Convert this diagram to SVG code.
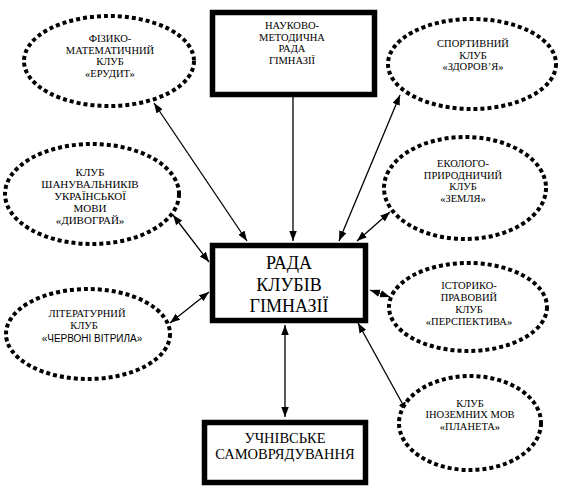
<svg xmlns="http://www.w3.org/2000/svg" width="567" height="497" viewBox="0 0 567 497">
<defs>
<marker id="ah" markerUnits="userSpaceOnUse" markerWidth="10" markerHeight="8" refX="8" refY="3" orient="auto-start-reverse" viewBox="0 0 8 6">
<path d="M0,0 L8,3 L0,6 Z" fill="#000"/>
</marker>
<style>
.box{fill:#fff;stroke:#000;stroke-width:5.5}
.ell{fill:#fff;stroke:#000;stroke-width:4;stroke-dasharray:4 3}
.t{font-family:"Liberation Serif","Times New Roman",serif;fill:#000;text-anchor:middle;font-size:10.5px}
.s{font-family:"Liberation Sans",Arial,sans-serif;fill:#000;text-anchor:middle;font-size:10px}
.big{font-size:18px}
.mid{font-size:14.5px}
.c{stroke:#000;stroke-width:1.3;fill:none;marker-end:url(#ah)}
.c2{stroke:#000;stroke-width:1.3;fill:none;marker-start:url(#ah);marker-end:url(#ah)}
</style>
</defs>
<rect width="567" height="497" fill="#fff"/>
<g id="connectors">
<line class="c" x1="293" y1="97" x2="293" y2="241"/>
<line class="c2" x1="154" y1="103" x2="247" y2="241"/>
<line class="c2" x1="400" y1="95" x2="339" y2="241"/>
<line class="c2" x1="390" y1="212" x2="357" y2="241"/>
<line class="c2" x1="173" y1="215" x2="209" y2="262"/>
<line class="c2" x1="170" y1="323" x2="209" y2="292"/>
<line class="c2" x1="390" y1="297" x2="370" y2="290"/>
<line class="c2" x1="407" y1="412" x2="358" y2="323"/>
<line class="c2" x1="285" y1="325" x2="285" y2="417"/>
</g>
<g id="n-nmr">
<rect class="box" x="212.5" y="12.5" width="162" height="82"/>
<text class="t" x="292" y="29">НАУКОВО-</text>
<text class="t" x="292" y="40.5">МЕТОДИЧНА</text>
<text class="t" x="292" y="52">РАДА</text>
<text class="t" x="292" y="63.5">ГІМНАЗІЇ</text>
</g>
<g id="n-rada">
<rect class="box" x="212.5" y="245.5" width="153" height="75"/>
<text class="t big" x="289" y="269">РАДА</text>
<text class="t big" x="289" y="291">КЛУБІВ</text>
<text class="t big" x="289" y="312">ГІМНАЗІЇ</text>
</g>
<g id="n-uchn">
<rect class="box" x="204.5" y="422.5" width="161" height="60"/>
<text class="t mid" x="285" y="443">УЧНІВСЬКЕ</text>
<text class="t mid" x="285" y="459">САМОВРЯДУВАННЯ</text>
</g>
<g id="n-erudyt">
<ellipse class="ell" cx="109" cy="61" rx="85" ry="45"/>
<text class="t" x="110" y="42">ФІЗИКО-</text>
<text class="t" x="110" y="53.5">МАТЕМАТИЧНИЙ</text>
<text class="t" x="110" y="65">КЛУБ</text>
<text class="t" x="110" y="76.5">«ЕРУДИТ»</text>
</g>
<g id="n-zdorovya">
<ellipse class="ell" cx="472" cy="64" rx="84" ry="45"/>
<text class="t" x="473" y="47">СПОРТИВНИЙ</text>
<text class="t" x="473" y="58.5">КЛУБ</text>
<text class="t" x="473" y="70">«ЗДОРОВ’Я»</text>
</g>
<g id="n-dyvohrai">
<ellipse class="ell" cx="92" cy="194" rx="87" ry="50"/>
<text class="t" x="90" y="176" style="font-size:11px">КЛУБ</text>
<text class="t" x="90" y="188" style="font-size:11px">ШАНУВАЛЬНИКІВ</text>
<text class="t" x="90" y="200" style="font-size:11px">УКРАЇНСЬКОЇ</text>
<text class="t" x="90" y="212" style="font-size:11px">МОВИ</text>
<text class="t" x="90" y="224" style="font-size:11px">«ДИВОГРАЙ»</text>
</g>
<g id="n-zemlya">
<ellipse class="ell" cx="465" cy="188" rx="81" ry="51"/>
<text class="t" x="463" y="167">ЕКОЛОГО-</text>
<text class="t" x="463" y="178.5">ПРИРОДНИЧИЙ</text>
<text class="t" x="463" y="190">КЛУБ</text>
<text class="t" x="463" y="201.5">«ЗЕМЛЯ»</text>
</g>
<g id="n-vitryla">
<ellipse class="ell" cx="88" cy="334" rx="82" ry="45"/>
<text class="t" x="87" y="317">ЛІТЕРАТУРНИЙ</text>
<text class="t" x="84" y="329">КЛУБ</text>
<text class="s" x="92" y="342">«ЧЕРВОНІ ВІТРИЛА»</text>
</g>
<g id="n-perspektyva">
<ellipse class="ell" cx="468" cy="307" rx="79" ry="44"/>
<text class="t" x="469" y="289">ІСТОРИКО-</text>
<text class="t" x="469" y="301">ПРАВОВИЙ</text>
<text class="t" x="469" y="313">КЛУБ</text>
<text class="t" x="469" y="325">«ПЕРСПЕКТИВА»</text>
</g>
<g id="n-planeta">
<ellipse class="ell" cx="470" cy="423" rx="71" ry="47"/>
<text class="t" x="470" y="407">КЛУБ</text>
<text class="t" x="470" y="418">ІНОЗЕМНИХ МОВ</text>
<text class="t" x="470" y="430">«ПЛАНЕТА»</text>
</g>
</svg>
